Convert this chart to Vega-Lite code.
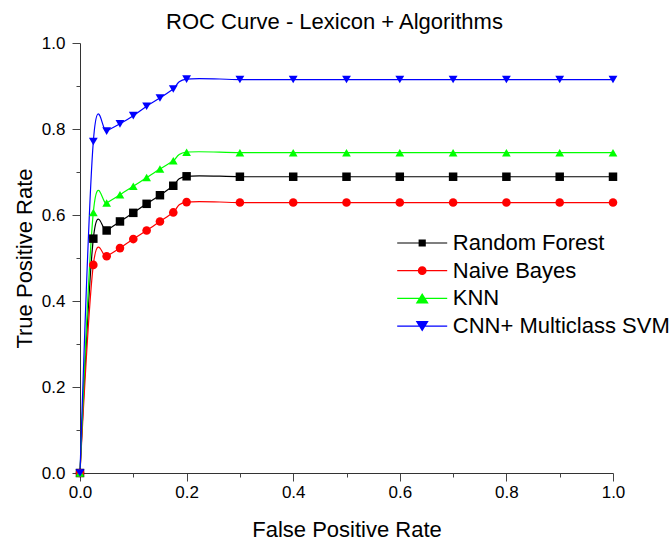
{
  "$schema": "https://vega.github.io/schema/vega-lite/v6.json",
  "width": 533,
  "height": 430,
  "autosize": {"type": "none"},
  "padding": {"left": 80, "top": 43, "right": 59, "bottom": 67},
  "background": "white",
  "config": {
    "font": "Liberation Sans",
    "view": {"stroke": null},
    "axis": {"grid": false, "labelFlush": false, "labelColor": "#000", "titleColor": "#000", "titleFontWeight": "normal", "domainColor": "#333", "tickColor": "#444", "tickWidth": 1, "domainWidth": 1}
  },
  "title": {"text": "ROC Curve - Lexicon + Algorithms", "fontSize": 22, "fontWeight": "normal", "color": "#000", "anchor": "middle", "dx": -12, "baseline": "alphabetic", "offset": -17},
  "data": {"values": [
    {"model": "Random Forest", "fpr": 0, "tpr": 0},
    {"model": "Random Forest", "fpr": 0.025, "tpr": 0.545},
    {"model": "Random Forest", "fpr": 0.05, "tpr": 0.564},
    {"model": "Random Forest", "fpr": 0.075, "tpr": 0.585},
    {"model": "Random Forest", "fpr": 0.1, "tpr": 0.605},
    {"model": "Random Forest", "fpr": 0.125, "tpr": 0.626},
    {"model": "Random Forest", "fpr": 0.15, "tpr": 0.646},
    {"model": "Random Forest", "fpr": 0.175, "tpr": 0.668},
    {"model": "Random Forest", "fpr": 0.2, "tpr": 0.69},
    {"model": "Random Forest", "fpr": 0.3, "tpr": 0.689},
    {"model": "Random Forest", "fpr": 0.4, "tpr": 0.689},
    {"model": "Random Forest", "fpr": 0.5, "tpr": 0.689},
    {"model": "Random Forest", "fpr": 0.6, "tpr": 0.689},
    {"model": "Random Forest", "fpr": 0.7, "tpr": 0.689},
    {"model": "Random Forest", "fpr": 0.8, "tpr": 0.689},
    {"model": "Random Forest", "fpr": 0.9, "tpr": 0.689},
    {"model": "Random Forest", "fpr": 1.0, "tpr": 0.689},
    {"model": "Naive Bayes", "fpr": 0, "tpr": 0},
    {"model": "Naive Bayes", "fpr": 0.025, "tpr": 0.484},
    {"model": "Naive Bayes", "fpr": 0.05, "tpr": 0.504},
    {"model": "Naive Bayes", "fpr": 0.075, "tpr": 0.523},
    {"model": "Naive Bayes", "fpr": 0.1, "tpr": 0.544},
    {"model": "Naive Bayes", "fpr": 0.125, "tpr": 0.564},
    {"model": "Naive Bayes", "fpr": 0.15, "tpr": 0.585},
    {"model": "Naive Bayes", "fpr": 0.175, "tpr": 0.606},
    {"model": "Naive Bayes", "fpr": 0.2, "tpr": 0.63},
    {"model": "Naive Bayes", "fpr": 0.3, "tpr": 0.629},
    {"model": "Naive Bayes", "fpr": 0.4, "tpr": 0.629},
    {"model": "Naive Bayes", "fpr": 0.5, "tpr": 0.629},
    {"model": "Naive Bayes", "fpr": 0.6, "tpr": 0.629},
    {"model": "Naive Bayes", "fpr": 0.7, "tpr": 0.629},
    {"model": "Naive Bayes", "fpr": 0.8, "tpr": 0.629},
    {"model": "Naive Bayes", "fpr": 0.9, "tpr": 0.629},
    {"model": "Naive Bayes", "fpr": 1.0, "tpr": 0.629},
    {"model": "KNN", "fpr": 0, "tpr": 0},
    {"model": "KNN", "fpr": 0.025, "tpr": 0.606},
    {"model": "KNN", "fpr": 0.05, "tpr": 0.628},
    {"model": "KNN", "fpr": 0.075, "tpr": 0.647},
    {"model": "KNN", "fpr": 0.1, "tpr": 0.667},
    {"model": "KNN", "fpr": 0.125, "tpr": 0.687},
    {"model": "KNN", "fpr": 0.15, "tpr": 0.707},
    {"model": "KNN", "fpr": 0.175, "tpr": 0.726},
    {"model": "KNN", "fpr": 0.2, "tpr": 0.746},
    {"model": "KNN", "fpr": 0.3, "tpr": 0.745},
    {"model": "KNN", "fpr": 0.4, "tpr": 0.745},
    {"model": "KNN", "fpr": 0.5, "tpr": 0.745},
    {"model": "KNN", "fpr": 0.6, "tpr": 0.745},
    {"model": "KNN", "fpr": 0.7, "tpr": 0.745},
    {"model": "KNN", "fpr": 0.8, "tpr": 0.745},
    {"model": "KNN", "fpr": 0.9, "tpr": 0.745},
    {"model": "KNN", "fpr": 1.0, "tpr": 0.745},
    {"model": "CNN+ Multiclass SVM", "fpr": 0, "tpr": 0},
    {"model": "CNN+ Multiclass SVM", "fpr": 0.025, "tpr": 0.771},
    {"model": "CNN+ Multiclass SVM", "fpr": 0.05, "tpr": 0.795},
    {"model": "CNN+ Multiclass SVM", "fpr": 0.075, "tpr": 0.812},
    {"model": "CNN+ Multiclass SVM", "fpr": 0.1, "tpr": 0.831},
    {"model": "CNN+ Multiclass SVM", "fpr": 0.125, "tpr": 0.853},
    {"model": "CNN+ Multiclass SVM", "fpr": 0.15, "tpr": 0.872},
    {"model": "CNN+ Multiclass SVM", "fpr": 0.175, "tpr": 0.893},
    {"model": "CNN+ Multiclass SVM", "fpr": 0.2, "tpr": 0.916},
    {"model": "CNN+ Multiclass SVM", "fpr": 0.3, "tpr": 0.915},
    {"model": "CNN+ Multiclass SVM", "fpr": 0.4, "tpr": 0.915},
    {"model": "CNN+ Multiclass SVM", "fpr": 0.5, "tpr": 0.915},
    {"model": "CNN+ Multiclass SVM", "fpr": 0.6, "tpr": 0.915},
    {"model": "CNN+ Multiclass SVM", "fpr": 0.7, "tpr": 0.915},
    {"model": "CNN+ Multiclass SVM", "fpr": 0.8, "tpr": 0.915},
    {"model": "CNN+ Multiclass SVM", "fpr": 0.9, "tpr": 0.915},
    {"model": "CNN+ Multiclass SVM", "fpr": 1.0, "tpr": 0.915}
  ]},
  "resolve": {
    "axis": {"x": "independent", "y": "independent"},
    "scale": {"shape": "independent", "fill": "independent"},
    "legend": {"shape": "independent", "fill": "independent"}
  },
  "layer": [
    {
      "mark": {"type": "line", "interpolate": "cardinal", "tension": 0, "strokeWidth": 1.2, "clip": false},
      "encoding": {
        "x": {"field": "fpr", "type": "quantitative", "scale": {"domain": [0, 1], "nice": false, "zero": false, "padding": 0},
          "axis": {"orient": "bottom", "values": [0, 0.2, 0.4, 0.6, 0.8, 1.0], "format": ".1f", "tickSize": 8, "labelFontSize": 17, "labelPadding": 3, "title": "False Positive Rate", "titleFontSize": 22, "titleBaseline": "alphabetic", "titleY": 63}},
        "y": {"field": "tpr", "type": "quantitative", "scale": {"domain": [0, 1], "nice": false, "zero": false, "padding": 0},
          "axis": {"orient": "left", "values": [0, 0.2, 0.4, 0.6, 0.8, 1.0], "format": ".1f", "tickSize": 8, "labelFontSize": 17, "labelPadding": 7, "title": "True Positive Rate", "titleFontSize": 22, "titleBaseline": "alphabetic", "titleX": -49}},
        "color": {"field": "model", "type": "nominal", "sort": ["Random Forest", "Naive Bayes", "KNN", "CNN+ Multiclass SVM"],
          "scale": {"domain": ["Random Forest", "Naive Bayes", "KNN", "CNN+ Multiclass SVM"], "range": ["#000000", "#ff0000", "#00ff00", "#0000ff"]},
          "legend": null}
      }
    },
    {
      "mark": {"type": "point", "filled": true, "opacity": 1, "clip": false, "strokeWidth": 0},
      "encoding": {
        "x": {"field": "fpr", "type": "quantitative", "scale": {"domain": [0, 1], "nice": false, "zero": false, "padding": 0},
          "axis": {"orient": "bottom", "values": [0.1, 0.3, 0.5, 0.7, 0.9], "labels": false, "domain": false, "tickSize": 4, "title": null}},
        "y": {"field": "tpr", "type": "quantitative", "scale": {"domain": [0, 1], "nice": false, "zero": false, "padding": 0},
          "axis": {"orient": "left", "values": [0.1, 0.3, 0.5, 0.7, 0.9], "labels": false, "domain": false, "tickSize": 4, "title": null}},
        "color": {"field": "model", "type": "nominal", "sort": ["Random Forest", "Naive Bayes", "KNN", "CNN+ Multiclass SVM"], "legend": null},
        "shape": {"field": "model", "type": "nominal", "sort": ["Random Forest", "Naive Bayes", "KNN", "CNN+ Multiclass SVM"],
          "scale": {"domain": ["Random Forest", "Naive Bayes", "KNN", "CNN+ Multiclass SVM"], "range": ["square", "circle", "triangle-up", "triangle-down"]}, "legend": null},
        "size": {"field": "model", "type": "nominal", "sort": ["Random Forest", "Naive Bayes", "KNN", "CNN+ Multiclass SVM"],
          "scale": {"domain": ["Random Forest", "Naive Bayes", "KNN", "CNN+ Multiclass SVM"], "range": [72, 78, 144, 144]}, "legend": null}
      }
    },
    {
      "transform": [{"filter": "datum.fpr > 5"}],
      "mark": {"type": "point", "filled": true, "opacity": 1, "strokeWidth": 0, "size": 4},
      "encoding": {
        "fill": {"field": "model", "type": "nominal", "sort": ["Random Forest", "Naive Bayes", "KNN", "CNN+ Multiclass SVM"],
          "scale": {"domain": ["Random Forest", "Naive Bayes", "KNN", "CNN+ Multiclass SVM"], "range": ["#000000", "#ff0000", "#00ff00", "#0000ff"]},
          "legend": {"orient": "none", "legendX": 331.2, "legendY": 189, "title": null, "padding": 0, "symbolSize": 4, "symbolStrokeWidth": 0, "symbolOpacity": 1, "labelFontSize": 22, "labelColor": "#000", "labelOffset": 19.6, "rowPadding": 5.7, "labelLimit": 400}},
        "shape": {"field": "model", "type": "nominal", "sort": ["Random Forest", "Naive Bayes", "KNN", "CNN+ Multiclass SVM"],
          "scale": {"domain": ["Random Forest", "Naive Bayes", "KNN", "CNN+ Multiclass SVM"], "range": [
            "M-25,-0.6H25V0.6H-25Z M-3.6,-3.6H3.6V3.6H-3.6Z",
            "M-25,-0.6H25V0.6H-25Z M4.4,0A4.4,4.4,0,1,1,-4.4,0A4.4,4.4,0,1,1,4.4,0Z",
            "M-25,-0.6H25V0.6H-25Z M0,-5.5L6.5,5H-6.5Z",
            "M-25,-0.6H25V0.6H-25Z M-6.5,-5H6.5L0,5.5Z"]},
          "legend": {"orient": "none", "legendX": 331.2, "legendY": 189, "title": null, "padding": 0, "symbolSize": 4, "symbolStrokeWidth": 0, "symbolOpacity": 1, "labelFontSize": 22, "labelColor": "#000", "labelOffset": 19.6, "rowPadding": 5.7, "labelLimit": 400}}
      }
    }
  ]
}
